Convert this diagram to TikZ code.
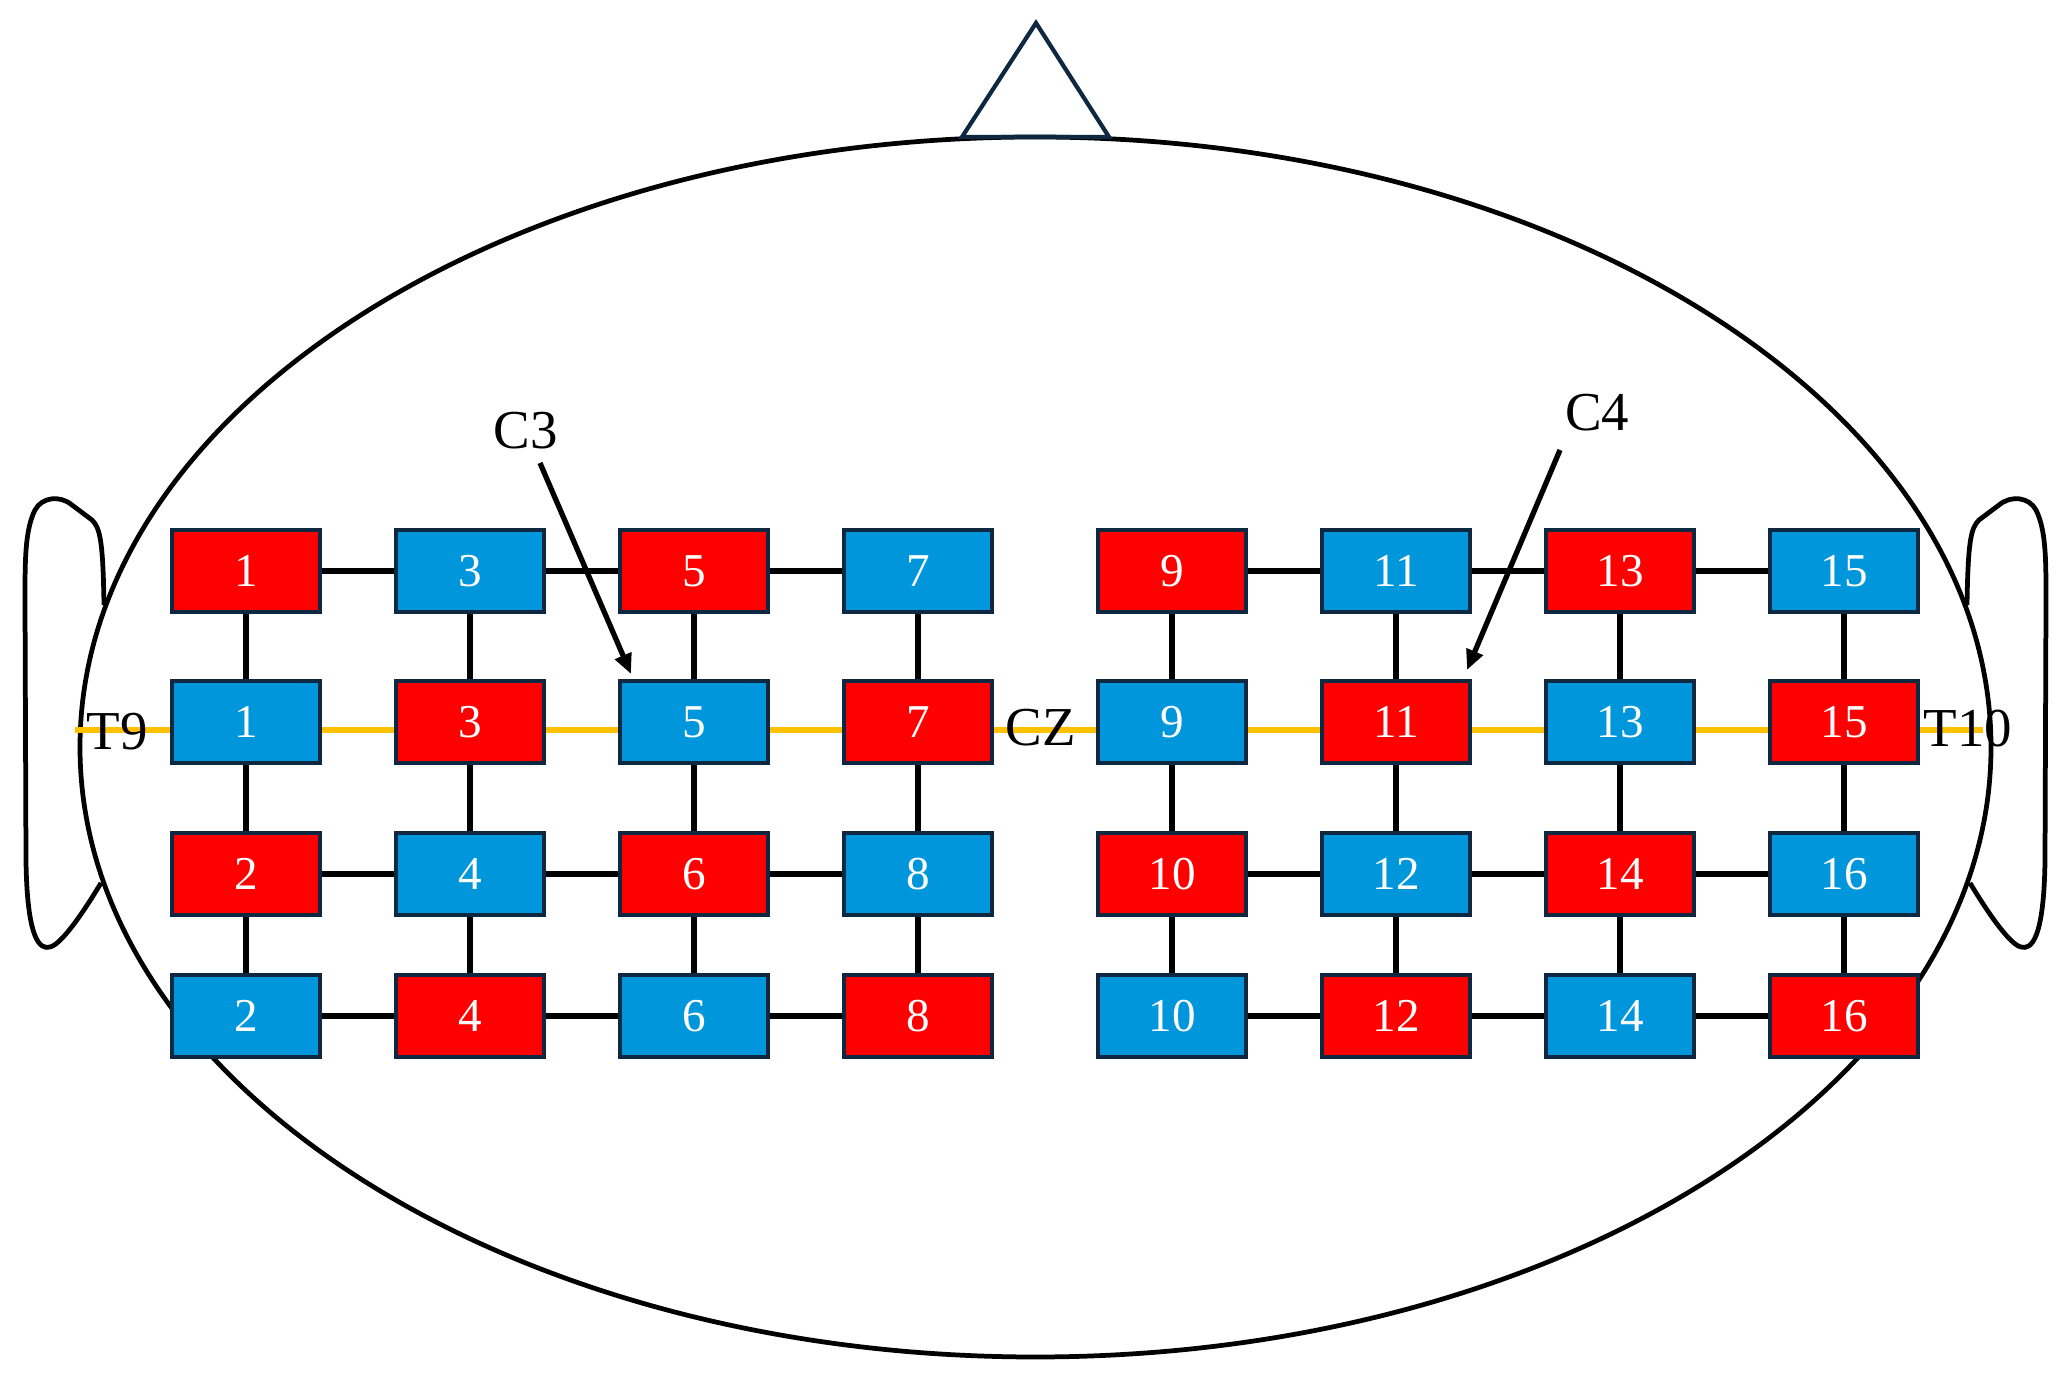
\documentclass[tikz,border=0pt]{standalone}
\usepackage{fontspec}
\setmainfont{Liberation Serif}
\usetikzlibrary{arrows.meta}
\definecolor{ered}{HTML}{FF0000}
\definecolor{eblue}{HTML}{0096DC}
\definecolor{edge}{HTML}{0E2841}
\definecolor{eyellow}{HTML}{FFC000}
\tikzset{
  headline/.style={line width=1.35pt, black},
  ebox/.style={draw=edge, line width=1.1pt, minimum width=1.48cm, minimum height=0.82cm,
     inner sep=0pt, text=white, font=\fontsize{13.4}{14}\selectfont},
  conn/.style={line width=1.7pt, black},
  yline/.style={line width=1.7pt, eyellow},
  lbl/.style={inner sep=0pt, font=\fontsize{15.6}{17}\selectfont, text=black},
  pointer/.style={line width=1.5pt, black, -{Triangle[length=0.2cm,width=0.17cm]}}
}
\begin{document}
\begin{tikzpicture}[x=0.01cm,y=-0.01cm]
\useasboundingbox (0,0) rectangle (2066,1374);
% head
\coordinate (hc) at (1035.5,747);
\draw[headline] (hc) ellipse [x radius=955.5, y radius=610];
% nose
\coordinate (nA) at (1036,23);
\coordinate (nB) at (962,137);
\coordinate (nC) at (1109,137);
\draw[line width=1.2pt, draw=edge, line join=miter] (nB) -- (nA) -- (nC) -- cycle;
% ears
\draw[headline] (104,605) .. controls (103,540) and (100,528) .. (92,520) -- (72,505)
  .. controls (60,495) and (42,497) .. (35,510) .. controls (25,530) and (25,560) .. (25,600)
  -- (26,860) .. controls (27,940) and (40,950) .. (50,947) .. controls (60,945) and (80,918) .. (101,883);
\draw[headline] (1967,605) .. controls (1968,540) and (1971,528) .. (1979,520) -- (1999,505)
  .. controls (2011,495) and (2029,497) .. (2036,510) .. controls (2046,530) and (2046,560) .. (2046,600)
  -- (2045,860) .. controls (2044,940) and (2031,950) .. (2021,947) .. controls (2011,945) and (1991,918) .. (1970,883);
% yellow midline
\coordinate (yl) at (75,730);
\coordinate (yr) at (1983,730);
\draw[yline] (yl) -- (yr);
% electrodes
\foreach \c/\x in {1/246,2/470,3/694,4/918,5/1172,6/1396,7/1620,8/1844} {
  \foreach \r/\y in {1/571,2/722,3/874,4/1016} {
    \pgfmathtruncatemacro\lab{\r<3 ? 2*\c-1 : 2*\c}
    \ifodd\numexpr\c+\r\relax \def\fc{eblue}\else \def\fc{ered}\fi
    \node[ebox, fill=\fc] (n\r-\c) at (\x,\y) {\lab};
  }
}
% connectors
\foreach \c in {1,...,8} {
  \foreach \r/\s in {1/2,2/3,3/4} {
    \draw[conn] (n\r-\c) -- (n\s-\c);
  }
}
\foreach \r in {1,3,4} {
  \foreach \c/\d in {1/2,2/3,3/4,5/6,6/7,7/8} {
    \draw[conn] (n\r-\c) -- (n\r-\d);
  }
}
% labels
\node[lbl] (T9) at (117,732) {T9};
\node[lbl] (T10) at (1968,729) {T10};
\node[lbl] (CZ) at (1041,728) {CZ};
\node[lbl] (C3) at (526,431) {C3};
\node[lbl] (C4) at (1597,413) {C4};
% pointers
\coordinate (c3tail) at (540,463);
\coordinate (c3tip) at (631,674);
\coordinate (c4tail) at (1560,450);
\coordinate (c4tip) at (1467,670);
\draw[pointer] (c3tail) -- (c3tip);
\draw[pointer] (c4tail) -- (c4tip);
\end{tikzpicture}
\end{document}
